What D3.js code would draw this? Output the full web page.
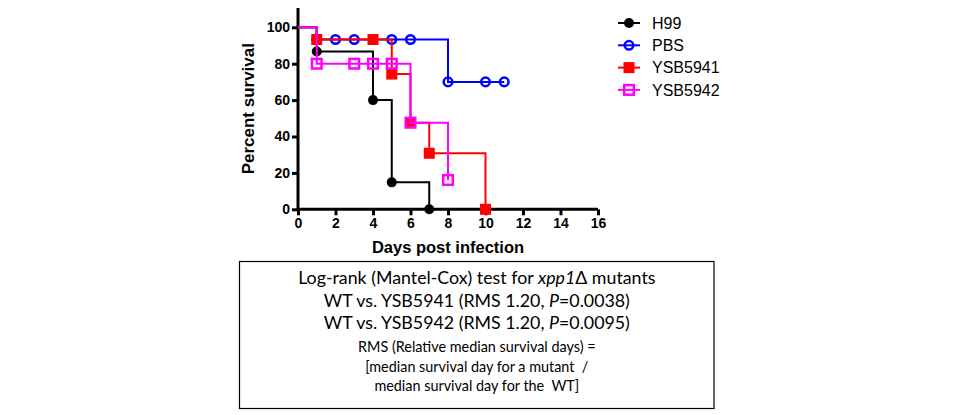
<!DOCTYPE html>
<html>
<head>
<meta charset="utf-8">
<script src="https://cdn.jsdelivr.net/npm/d3@7"></script>
<style>
  body { margin: 0; background: #fff; }
  svg { display: block; }
</style>
</head>
<body>
<svg id="chart" width="960" height="415"></svg>
<script>
// survival data (days, percent survival)
var seriesNames = ['H99', 'PBS', 'YSB5941', 'YSB5942'];
var h99Days = [0, 1, 4, 5, 7];
var h99Surv = [100, 86.7, 60, 14.8, 0];
var pbsDays = [0, 1, 2, 3, 5, 6, 8, 10, 11];
var pbsSurv = [100, 93.3, 93.3, 93.3, 93.3, 93.3, 70, 70, 70];
var y5941Days = [0, 1, 4, 5, 6, 7, 10];
var y5941Surv = [100, 93.3, 93.3, 74.3, 47.6, 30.8, 0];
var y5942Days = [0, 1, 3, 4, 5, 6, 8];
var y5942Surv = [100, 80, 80, 80, 80, 47.6, 16.1];
var xTicks = [0, 2, 4, 6, 8, 10, 12, 14, 16];
var yTicks = [0, 20, 40, 60, 80, 100];

var boxLines = [
  ['Log-rank (Mantel-Cox) test for ', {i: 'xpp1'}, '\u0394 mutants'],
  ['WT vs. YSB5941 (RMS 1.20, ', {i: 'P'}, '=0.0038)'],
  ['WT vs. YSB5942 (RMS 1.20, ', {i: 'P'}, '=0.0095)']
];
var noteLines = [
  'RMS (Relative median survival days) =',
  '[median survival day for a mutant  /',
  'median survival day for the  WT]'
];

var styles = {
  H99: {color: '#000000', shape: 'circle', fill: true},
  PBS: {color: '#0000ff', shape: 'circle', fill: false},
  YSB5941: {color: '#ff0000', shape: 'square', fill: true},
  YSB5942: {color: '#ff00ff', shape: 'square', fill: false}
};

function zip(days, surv) {
  return days.map(function (d, i) { return {day: d, surv: surv[i]}; });
}
var series = [
  {name: 'H99', pts: zip(h99Days, h99Surv)},
  {name: 'PBS', pts: zip(pbsDays, pbsSurv)},
  {name: 'YSB5941', pts: zip(y5941Days, y5941Surv)},
  {name: 'YSB5942', pts: zip(y5942Days, y5942Surv)}
];

var svg = d3.select('#chart');
var x = d3.scaleLinear().domain([0, 16]).range([298, 598]);
var y = d3.scaleLinear().domain([0, 100]).range([209.3, 27.3]);

// axes
var xAxis = svg.append('g')
  .attr('transform', 'translate(0,' + y(0) + ')')
  .call(d3.axisBottom(x).tickValues(xTicks).tickSize(6).tickPadding(3).tickFormat(d3.format('d')));
var yAxis = svg.append('g')
  .attr('transform', 'translate(' + x(0) + ',0)')
  .call(d3.axisLeft(y).tickValues(yTicks).tickSize(6).tickPadding(2).tickFormat(d3.format('d')));
yAxis.select('.domain').attr('d', 'M0,' + y(0) + 'V8');
xAxis.select('.domain').attr('d', 'M' + x(0) + ',0H' + x(16));
[xAxis, yAxis].forEach(function (g) {
  g.selectAll('.domain, .tick line').attr('stroke', '#000').attr('stroke-width', 3);
  g.selectAll('.tick text')
    .attr('fill', '#000')
    .style('font-family', 'Liberation Sans, Arial, sans-serif')
    .style('font-weight', 'bold')
    .style('font-size', '14px');
});

svg.append('text')
  .attr('x', (x(0) + x(16)) / 2).attr('y', 253)
  .attr('text-anchor', 'middle')
  .style('font-family', 'Liberation Sans, Arial, sans-serif')
  .style('font-weight', 'bold').style('font-size', '16.5px')
  .text('Days post infection');
svg.append('text')
  .attr('transform', 'translate(254,108.7) rotate(-90)')
  .attr('text-anchor', 'middle')
  .style('font-family', 'Liberation Sans, Arial, sans-serif')
  .style('font-weight', 'bold').style('font-size', '17px')
  .text('Percent survival');

function drawMarker(g, s, cx, cy) {
  if (s.shape === 'circle') {
    g.append('circle').attr('cx', cx).attr('cy', cy)
      .attr('r', s.fill ? 5 : 4.3)
      .attr('fill', s.fill ? s.color : 'none')
      .attr('stroke', s.color).attr('stroke-width', s.fill ? 0 : 2.5);
  } else {
    var h = s.fill ? 5.5 : 4.8;
    g.append('rect').attr('x', cx - h).attr('y', cy - h)
      .attr('width', 2 * h).attr('height', 2 * h)
      .attr('fill', s.fill ? s.color : 'none')
      .attr('stroke', s.color).attr('stroke-width', s.fill ? 0 : 2.5);
  }
}

var line = d3.line()
  .x(function (d) { return x(d.day); })
  .y(function (d) { return y(d.surv); })
  .curve(d3.curveStepAfter);

series.forEach(function (ser) {
  var s = styles[ser.name];
  var g = svg.append('g');
  g.append('path').datum(ser.pts)
    .attr('d', line)
    .attr('fill', 'none')
    .attr('stroke', s.color).attr('stroke-width', 2);
  ser.pts.slice(1).forEach(function (p) {
    drawMarker(g, s, x(p.day), y(p.surv));
  });
});

// legend
var legend = svg.append('g');
seriesNames.forEach(function (name, i) {
  var s = styles[name];
  var ly = 23 + i * 22.3;
  legend.append('line').attr('x1', 618).attr('x2', 640).attr('y1', ly).attr('y2', ly)
    .attr('stroke', s.color).attr('stroke-width', 2);
  drawMarker(legend, s, 629, ly);
  legend.append('text').attr('x', 652).attr('y', ly).attr('dy', '0.36em')
    .style('font-family', 'Liberation Sans, Arial, sans-serif')
    .style('font-size', '16px')
    .text(name);
});

// statistics box
svg.append('rect')
  .attr('x', 239.5).attr('y', 261.5).attr('width', 474.5).attr('height', 147)
  .attr('fill', 'none').attr('stroke', '#000').attr('stroke-width', 1.2);
var cx = 476.8;
var mainBase = [284, 306.5, 329];
boxLines.forEach(function (parts, i) {
  var t = svg.append('text').attr('x', cx).attr('y', mainBase[i])
    .attr('text-anchor', 'middle')
    .style('font-family', 'Lato, Carlito, Calibri, sans-serif')
    .style('font-size', '17.8px');
  parts.forEach(function (p) {
    if (typeof p === 'string') t.append('tspan').text(p);
    else t.append('tspan').style('font-style', 'italic').text(p.i);
  });
});
var noteBase = [352, 371.5, 391];
noteLines.forEach(function (txt, i) {
  svg.append('text').attr('x', cx).attr('y', noteBase[i])
    .attr('text-anchor', 'middle')
    .style('font-family', 'Lato, Carlito, Calibri, sans-serif')
    .style('font-size', '14.4px')
    .style('white-space', 'pre')
    .text(txt);
});
</script>
</body>
</html>
